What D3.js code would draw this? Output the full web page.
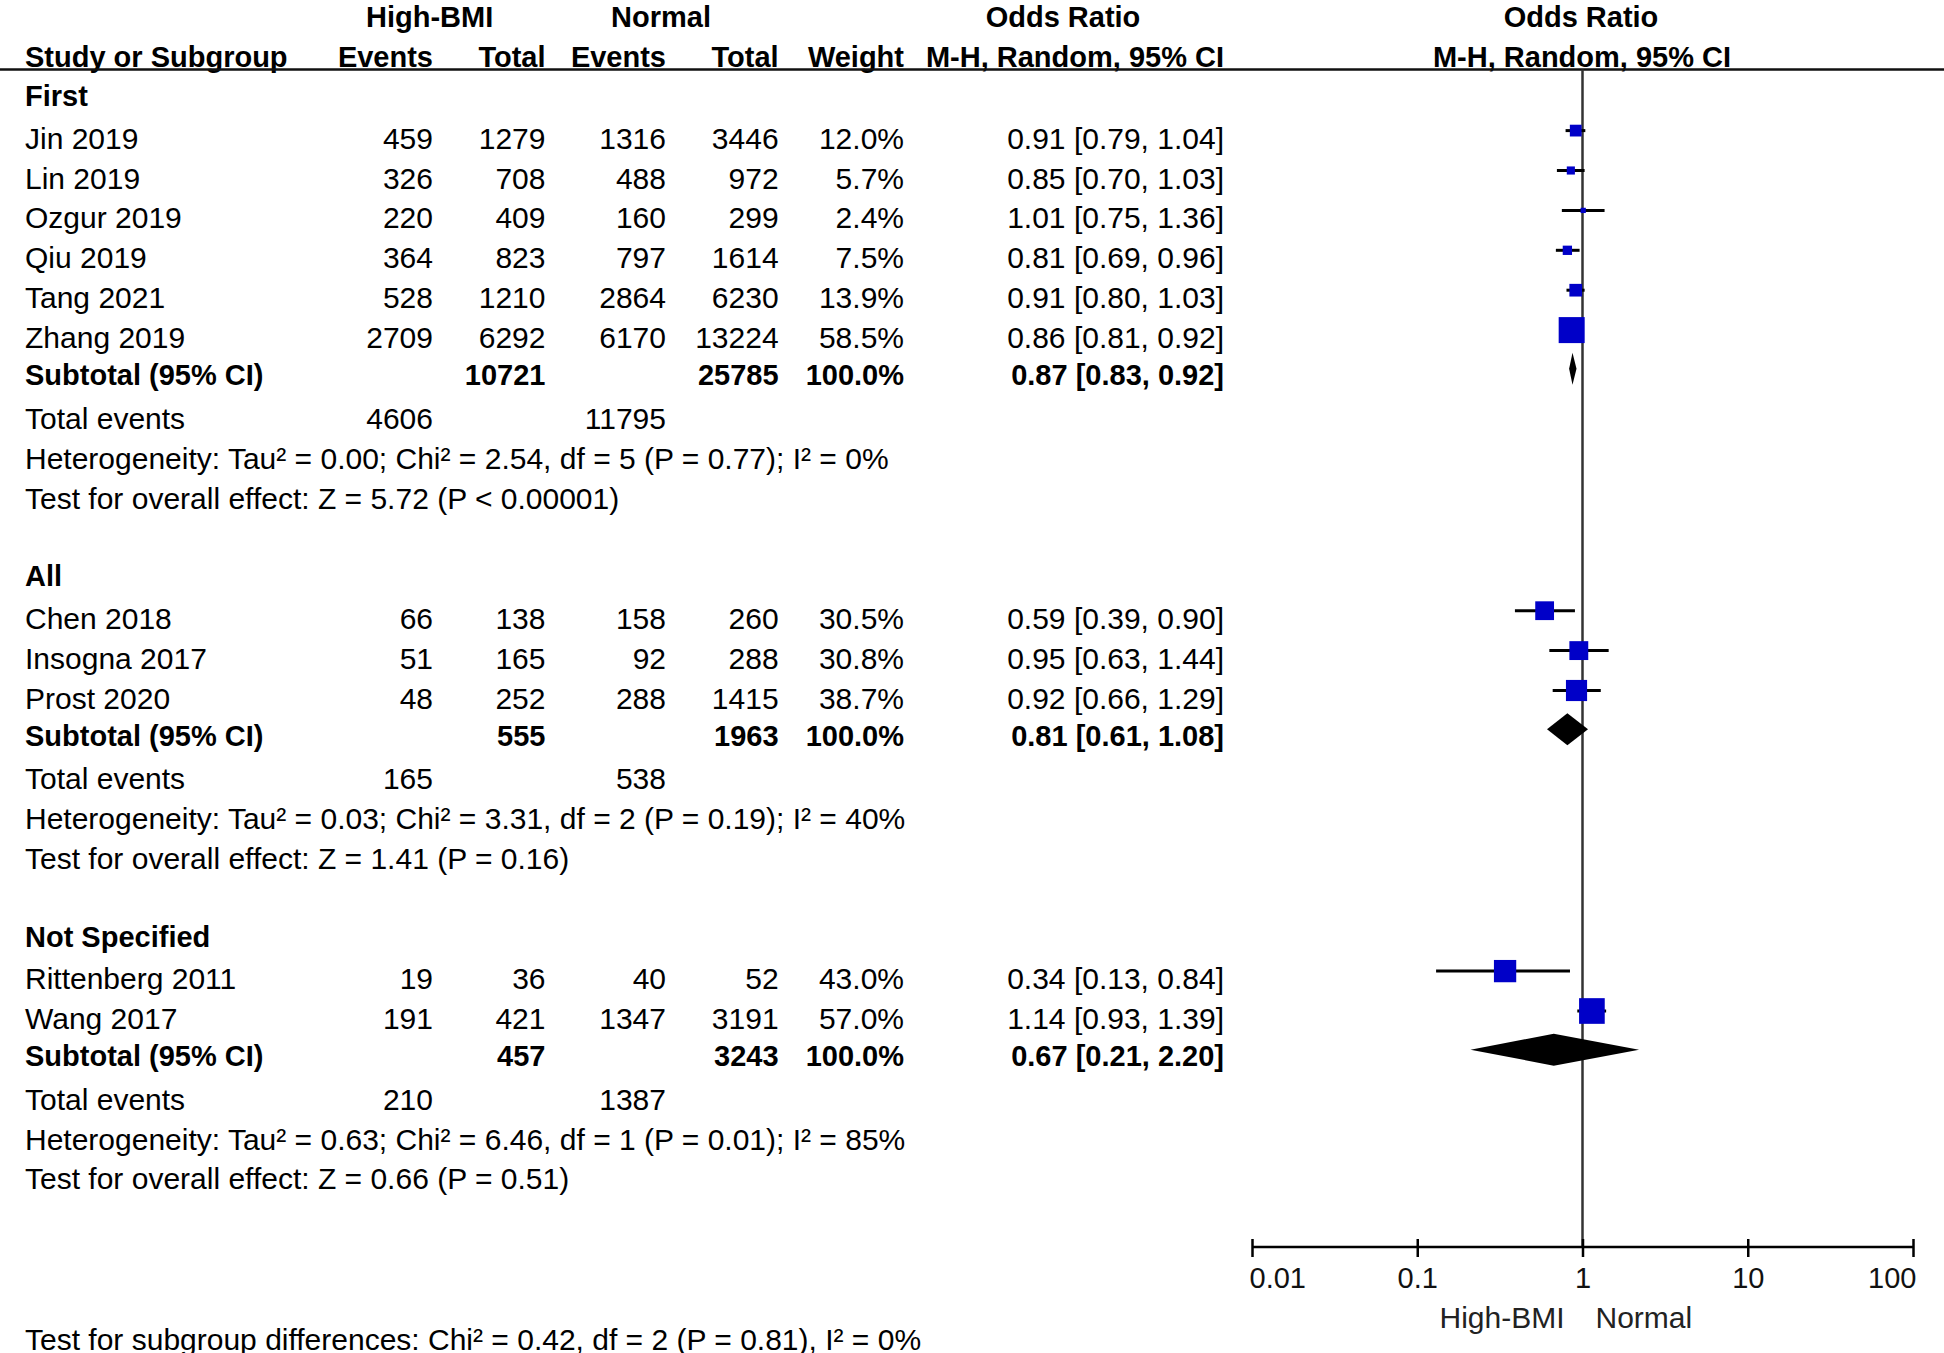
<!DOCTYPE html>
<html>
<head>
<meta charset="utf-8">
<script src="https://cdn.jsdelivr.net/npm/d3@7"></script>
<style>
html,body{margin:0;padding:0;background:#fff;}
svg text{font-family:"Liberation Sans",Arial,sans-serif;font-size:30px;fill:#000;}
svg text.b{font-size:29px;font-weight:bold;}
</style>
</head>
<body>
<svg id="chart" width="1944" height="1353"></svg>
<script>
// ---------------- DATA ----------------
const groups = ["First", "All", "Not Specified"];
const studies = ["Jin 2019", "Lin 2019", "Ozgur 2019", "Qiu 2019", "Tang 2021", "Zhang 2019",
                 "Chen 2018", "Insogna 2017", "Prost 2020",
                 "Rittenberg 2011", "Wang 2017"];
const studyGroup = [0, 0, 0, 0, 0, 0, 1, 1, 1, 2, 2];
const hbEvents = [459, 326, 220, 364, 528, 2709, 66, 51, 48, 19, 191];
const hbTotal  = [1279, 708, 409, 823, 1210, 6292, 138, 165, 252, 36, 421];
const nEvents  = [1316, 488, 160, 797, 2864, 6170, 158, 92, 288, 40, 1347];
const nTotal   = [3446, 972, 299, 1614, 6230, 13224, 260, 288, 1415, 52, 3191];
const weights  = [12.0, 5.7, 2.4, 7.5, 13.9, 58.5, 30.5, 30.8, 38.7, 43.0, 57.0];
const orEst    = [0.91, 0.85, 1.01, 0.81, 0.91, 0.86, 0.59, 0.95, 0.92, 0.34, 1.14];
const orLo     = [0.79, 0.70, 0.75, 0.69, 0.80, 0.81, 0.39, 0.63, 0.66, 0.13, 0.93];
const orHi     = [1.04, 1.03, 1.36, 0.96, 1.03, 0.92, 0.90, 1.44, 1.29, 0.84, 1.39];

const subHbTotal  = [10721, 555, 457];
const subNTotal   = [25785, 1963, 3243];
const subWeight   = [100.0, 100.0, 100.0];
const subEst      = [0.87, 0.81, 0.67];
const subLo       = [0.83, 0.61, 0.21];
const subHi       = [0.92, 1.08, 2.20];
const subHbEvents = [4606, 165, 210];
const subNEvents  = [11795, 538, 1387];
const hetText = [
  "Heterogeneity: Tau\u00B2 = 0.00; Chi\u00B2 = 2.54, df = 5 (P = 0.77); I\u00B2 = 0%",
  "Heterogeneity: Tau\u00B2 = 0.03; Chi\u00B2 = 3.31, df = 2 (P = 0.19); I\u00B2 = 40%",
  "Heterogeneity: Tau\u00B2 = 0.63; Chi\u00B2 = 6.46, df = 1 (P = 0.01); I\u00B2 = 85%"
];
const testText = [
  "Test for overall effect: Z = 5.72 (P < 0.00001)",
  "Test for overall effect: Z = 1.41 (P = 0.16)",
  "Test for overall effect: Z = 0.66 (P = 0.51)"
];
const subgroupDiffText = "Test for subgroup differences: Chi\u00B2 = 0.42, df = 2 (P = 0.81), I\u00B2 = 0%";
const axisTicks = [0.01, 0.1, 1, 10, 100];
const axisTickLabels = ["0.01", "0.1", "1", "10", "100"];
const favoursLeft = "High-BMI", favoursRight = "Normal";

// ---------------- LAYOUT ----------------
const svg = d3.select("#chart");
const W = 1944;
const BASE = 10.5; // center -> baseline
const col = { name: 25, hbE: 433, hbT: 545.5, nE: 666, nT: 778.6, w: 904, or: 1224 };
const x = d3.scaleLog().domain([0.01, 100]).range([1252, 1913]);
const size = d3.scaleSqrt().domain([0, 100]).range([0, 34]);
const yAxis = 1247;
const fmt2 = d3.format(".2f"), fmt1 = d3.format(".1f");
const orStr = (e, l, h) => `${fmt2(e)} [${fmt2(l)}, ${fmt2(h)}]`;

function txt(xp, yc, s, anchor, bold, g) {
  return (g || svg).append("text")
    .attr("class", bold ? "b" : null)
    .attr("x", xp).attr("y", yc + BASE)
    .attr("text-anchor", anchor || "start")
    .text(s);
}

// header
txt(429.6, 16, "High-BMI", "middle", true);
txt(661, 16, "Normal", "middle", true);
txt(1063, 16, "Odds Ratio", "middle", true);
txt(1581, 16, "Odds Ratio", "middle", true);
txt(col.name, 56, "Study or Subgroup", "start", true);
txt(col.hbE, 56, "Events", "end", true);
txt(col.hbT, 56, "Total", "end", true);
txt(col.nE, 56, "Events", "end", true);
txt(col.nT, 56, "Total", "end", true);
txt(col.w, 56, "Weight", "end", true);
txt(col.or, 56, "M-H, Random, 95% CI", "end", true);
txt(1582, 56, "M-H, Random, 95% CI", "middle", true);

svg.append("line").attr("x1", 0).attr("x2", W).attr("y1", 69.5).attr("y2", 69.5)
  .attr("stroke", "#111").attr("stroke-width", 2.5);

// vertical line of no effect
svg.append("line").attr("x1", x(1)).attr("x2", x(1)).attr("y1", 69.5).attr("y2", yAxis)
  .attr("stroke", "#333").attr("stroke-width", 2.5);

const plot = svg.append("g");
const MOFF = -7.5;

let y = 95.5;
groups.forEach((gname, gi) => {
  txt(col.name, y, gname, "start", true);
  y += 42.6;
  const idx = studies.map((s, i) => i).filter(i => studyGroup[i] === gi);
  idx.forEach((i, k) => {
    if (k > 0) y += 39.9;
    txt(col.name, y, studies[i]);
    txt(col.hbE, y, hbEvents[i], "end");
    txt(col.hbT, y, hbTotal[i], "end");
    txt(col.nE, y, nEvents[i], "end");
    txt(col.nT, y, nTotal[i], "end");
    txt(col.w, y, fmt1(weights[i]) + "%", "end");
    txt(col.or, y, orStr(orEst[i], orLo[i], orHi[i]), "end");
    const ym = y + MOFF;
    plot.append("line").attr("x1", x(orLo[i])).attr("x2", x(orHi[i]))
      .attr("y1", ym).attr("y2", ym).attr("stroke", "#000").attr("stroke-width", 3);
    const s = size(weights[i]);
    plot.append("rect").attr("x", x(orEst[i]) - s / 2).attr("y", ym - s / 2)
      .attr("width", s).attr("height", s).attr("fill", "#0000c8");
  });
  y += 37.2;
  txt(col.name, y, "Subtotal (95% CI)", "start", true);
  txt(col.hbT, y, subHbTotal[gi], "end", true);
  txt(col.nT, y, subNTotal[gi], "end", true);
  txt(col.w, y, fmt1(subWeight[gi]) + "%", "end", true);
  txt(col.or, y, orStr(subEst[gi], subLo[gi], subHi[gi]), "end", true);
  const yd = y - 6, hd = 16;
  plot.append("path")
    .attr("d", `M${x(subLo[gi])},${yd} L${x(subEst[gi])},${yd - hd} L${x(subHi[gi])},${yd} L${x(subEst[gi])},${yd + hd} Z`)
    .attr("fill", "#000");
  y += 43.4;
  txt(col.name, y, "Total events");
  txt(col.hbE, y, subHbEvents[gi], "end");
  txt(col.nE, y, subNEvents[gi], "end");
  y += 40;
  txt(col.name, y, hetText[gi]);
  y += 39.8;
  txt(col.name, y, testText[gi]);
  y += 77.6;
});

// axis
const axis = d3.axisBottom(x).tickValues(axisTicks)
  .tickFormat((d, i) => axisTickLabels[i]).tickSizeOuter(0).tickSizeInner(10).tickPadding(14);
const ga = svg.append("g").attr("transform", `translate(0,${yAxis})`).call(axis);
ga.select(".domain").attr("stroke", "#000").attr("stroke-width", 2.5)
  .attr("d", `M${x(0.01)},0H${x(100)}`);
ga.selectAll(".tick line").attr("stroke", "#000").attr("stroke-width", 2.5).attr("y1", -8).attr("y2", 10);
ga.selectAll(".tick text")
  .attr("font-size", null).attr("font-family", null)
  .style("font-size", "29px").style("fill", "#111")
  .attr("dy", null).attr("y", 30 + BASE)
  .attr("text-anchor", (d, i) => i === 0 ? "start" : (i === axisTicks.length - 1 ? "end" : "middle"))
  .attr("x", (d, i) => i === 0 ? -3 : (i === axisTicks.length - 1 ? 3 : 0));

txt(x(1) - 18, 1317, favoursLeft, "end").style("fill", "#222");
txt(x(1) + 13, 1317, favoursRight, "start").style("fill", "#222");

txt(col.name, 1339, subgroupDiffText);
</script>
</body>
</html>
